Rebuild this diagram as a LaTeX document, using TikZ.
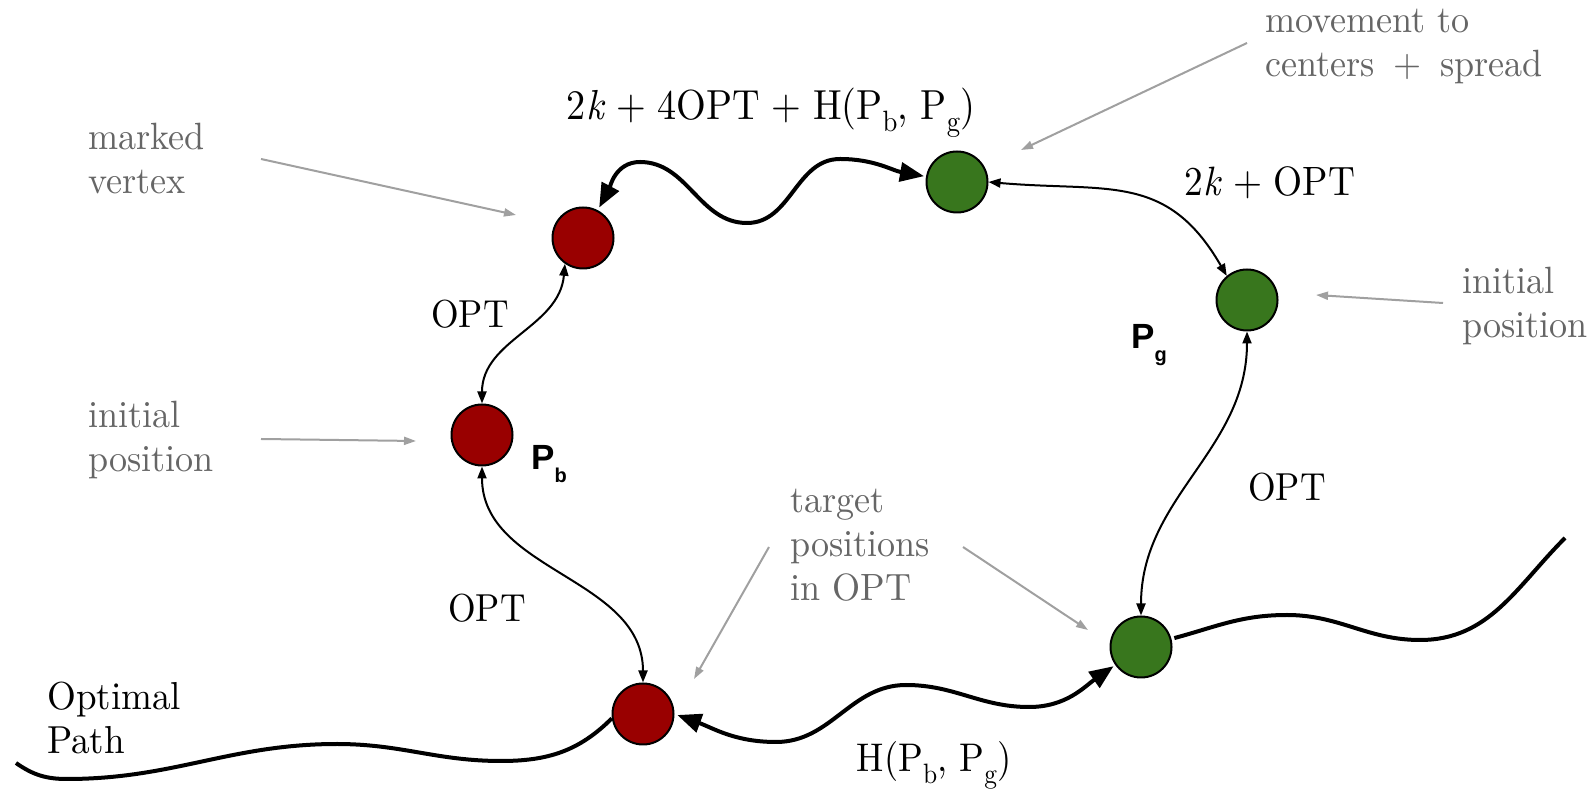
\documentclass[tikz,border=0pt]{standalone}
\usepackage{fontspec}
\usepackage{graphicx}
\usetikzlibrary{arrows.meta}
\setmainfont{lmroman10}[Extension=.otf, UprightFont=*-regular, ItalicFont=*-italic, BoldFont=*-bold]
\newfontfamily\labsans{Liberation Sans}
\definecolor{dotred}{HTML}{990000}
\definecolor{dotgreen}{HTML}{38761D}
\definecolor{notegray}{HTML}{666666}
\definecolor{notearrow}{HTML}{A0A0A0}
\newcommand\sqz[1]{\scalebox{0.91}[1]{#1}}
\newcommand\sqg[1]{\scalebox{0.95}[1]{#1}}
\newcommand\sbx[1]{\raisebox{-0.28em}{\fontsize{0.7em}{1em}\selectfont #1}}
\newcommand\pl{\hspace{0.3em}+\hspace{0.3em}}
\newcommand\plg{\hspace{0.52em}+\hspace{0.52em}}
\begin{document}
\begin{tikzpicture}[x=1pt,y=1pt,
  dot/.style={circle, draw=black, line width=2pt, minimum size=61pt, inner sep=0pt},
  reddot/.style={dot, fill=dotred},
  greendot/.style={dot, fill=dotgreen},
  bigarr/.style={line width=4pt, arrows={Triangle[length=24pt,width=19pt]-Triangle[length=24pt,width=19pt]}, shorten <=3pt, shorten >=2pt},
  thinarr/.style={line width=2pt, arrows={Triangle[length=12pt,width=9pt]-Triangle[length=12pt,width=9pt]}},
  optline/.style={line width=4pt},
  notearr/.style={line width=2pt, draw=notearrow, -{Triangle[length=12pt,width=8pt]}},
  note/.style={text=notegray, font=\fontsize{38}{44}\selectfont, anchor=base west, inner sep=0pt},
  lab/.style={font=\fontsize{39}{46}\selectfont, anchor=base, inner sep=0pt},
  pname/.style={font=\labsans\bfseries\fontsize{35}{40}\selectfont, anchor=base west, inner sep=0pt}
]
\useasboundingbox (0,0) rectangle (1593,792);

% dots
\node[reddot] (r1) at (583,554) {};
\node[reddot] (pb) at (482,357) {};
\node[reddot] (r3) at (643,78) {};
\node[greendot] (g1) at (957,610) {};
\node[greendot] (g2) at (1247,492) {};
\node[greendot] (g3) at (1141,145) {};

% optimal path pieces
\coordinate (optstart) at (16,29);
\coordinate (optend) at (1565,254);
\draw[optline] (optstart) to[out=-35,in=180] (67,13) to[out=0,in=180] (337,48)
  to[out=0,in=180] (501,31) to[out=0,in=225] (r3.188);
\draw[optline, shorten <=3pt] (g3) to[out=15,in=180] (1287,177) to[out=0,in=180] (1420,152)
  to[out=0,in=225] (optend);

% thick movement paths
\draw[bigarr] (r1) to[out=62,in=180] (640,630) to[out=0,in=180] (747,569)
  to[out=0,in=180] (840,633) to[out=0,in=170] (g1);
\draw[bigarr] (r3.east) to[out=-20,in=180] (776,50) to[out=0,in=180] (906,107)
  to[out=0,in=180] (1029,85) to[out=0,in=215] (g3);

% thin OPT arrows
\draw[thinarr] (r1.235) to[out=-95,in=90] (pb.north);
\draw[thinarr] (pb.south) to[out=-90,in=90] (r3.north);
\draw[thinarr] (g1.east) to[out=-5,in=120,looseness=1.2] (g2.130);
\draw[thinarr] (g2.south) to[out=-90,in=90] (g3.north);

% labels
\node[lab, font=\fontsize{42}{50}\selectfont] (ltop) at (771,672)
  {\sqz{2\textit{k}\pl 4OPT\pl H(P\sbx{b}, P\sbx{g})}};
\node[lab, font=\fontsize{41}{48}\selectfont] (lright) at (1270,596) {\sqz{2\textit{k}\pl OPT}};
\node[lab] (opt1) at (470,464) {\sqz{OPT}};
\node[lab] (opt2) at (487,170) {\sqz{OPT}};
\node[lab] (opt3) at (1287,291) {\sqz{OPT}};
\node[lab, font=\fontsize{40}{48}\selectfont] (lbot) at (934,20)
  {\sqz{H(P\sbx{b}, P\sbx{g})}};
\node[pname] (pbname) at (531,322) {P\raisebox{-13pt}{\fontsize{20}{21}\selectfont b}};
\node[pname] (pgname) at (1131,443) {P\raisebox{-13pt}{\fontsize{20}{21}\selectfont g}};
\node[lab, anchor=base west, text=black] (optpath) at (47,82)
  {\sqg{\begin{tabular}[t]{@{}l@{}}Optimal\\[-2pt]Path\end{tabular}}};

% notes
\node[note] (nmarked) at (88,642) {\sqg{\begin{tabular}[t]{@{}l@{}}marked\\vertex\end{tabular}}};
\node[note] (ninitl) at (88,364) {\sqg{\begin{tabular}[t]{@{}l@{}}initial\\position\end{tabular}}};
\node[note] (ninitr) at (1462,498) {\sqg{\begin{tabular}[t]{@{}l@{}}initial\\position\end{tabular}}};
\node[note] (ntarget) at (790,279) {\sqg{\begin{tabular}[t]{@{}l@{}}target\\positions\\in OPT\end{tabular}}};
\node[note] (nmove) at (1265,759) {\sqg{\begin{tabular}[t]{@{}l@{}}movement to\\centers\plg spread\end{tabular}}};

% note arrows
\coordinate (a1s) at (261,633); \coordinate (a1e) at (516,577);
\coordinate (a2s) at (261,353); \coordinate (a2e) at (416,351);
\coordinate (a3s) at (1443,489); \coordinate (a3e) at (1316,497);
\coordinate (a4s) at (1247,749); \coordinate (a4e) at (1021,642);
\coordinate (a5s) at (769,245); \coordinate (a5e) at (694,113);
\coordinate (a6s) at (963,245); \coordinate (a6e) at (1088,162);
\draw[notearr] (a1s) -- (a1e);
\draw[notearr] (a2s) -- (a2e);
\draw[notearr] (a3s) -- (a3e);
\draw[notearr] (a4s) -- (a4e);
\draw[notearr] (a5s) -- (a5e);
\draw[notearr] (a6s) -- (a6e);
\end{tikzpicture}
\end{document}
